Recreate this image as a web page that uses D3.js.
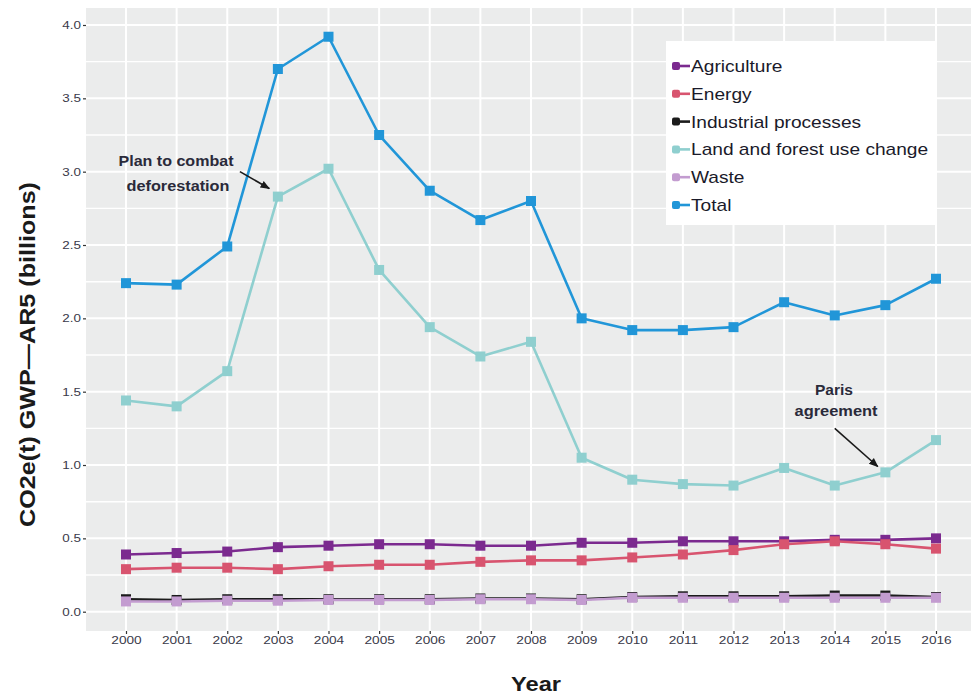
<!DOCTYPE html>
<html>
<head>
<meta charset="utf-8">
<script src="https://cdn.jsdelivr.net/npm/d3@7"></script>
<style>
  body { margin: 0; background: #fff; }
  svg { display: block; font-family: "Liberation Sans", Arial, sans-serif; }
</style>
</head>
<body>
<div id="chart"></div>
<script>
// Dữ liệu
const years = [2000, 2001, 2002, 2003, 2004, 2005, 2006, 2007, 2008, 2009, 2010, 2011, 2012, 2013, 2014, 2015, 2016];
const agriculture = [0.39, 0.40, 0.41, 0.44, 0.45, 0.46, 0.46, 0.45, 0.45, 0.47, 0.47, 0.48, 0.48, 0.48, 0.49, 0.49, 0.50];
const energy = [0.29, 0.30, 0.30, 0.29, 0.31, 0.32, 0.32, 0.34, 0.35, 0.35, 0.37, 0.39, 0.42, 0.46, 0.48, 0.46, 0.43];
const industrial = [0.085, 0.08, 0.085, 0.085, 0.085, 0.085, 0.085, 0.09, 0.09, 0.085, 0.10, 0.105, 0.105, 0.105, 0.11, 0.11, 0.10];
const landUse = [1.44, 1.40, 1.64, 2.83, 3.02, 2.33, 1.94, 1.74, 1.84, 1.05, 0.90, 0.87, 0.86, 0.98, 0.86, 0.95, 1.17];
const waste = [0.07, 0.07, 0.075, 0.075, 0.08, 0.08, 0.08, 0.085, 0.085, 0.08, 0.095, 0.095, 0.095, 0.095, 0.095, 0.095, 0.095];
const total = [2.24, 2.23, 2.49, 3.70, 3.92, 3.25, 2.87, 2.67, 2.80, 2.00, 1.92, 1.92, 1.94, 2.11, 2.02, 2.09, 2.27];
const yTicks = [0.0, 0.5, 1.0, 1.5, 2.0, 2.5, 3.0, 3.5, 4.0];

const seriesNames = ["Agriculture", "Energy", "Industrial processes", "Land and forest use change", "Waste", "Total"];
const seriesValues = [agriculture, energy, industrial, landUse, waste, total];
const colors = ["#7b2a8f", "#d8546f", "#1b1b1b", "#8fcfcf", "#c39cd0", "#2196d8"];
// thứ tự vẽ: Total và Land trước, các đường nhỏ sau
const drawOrder = [5, 3, 0, 1, 2, 4];

const W = 971, H = 694;
const panel = { left: 86, right: 971, top: 8, bottom: 631 };

// kéo giãn chữ theo chiều ngang (ảnh gốc bị giãn)
function stretch(sel, factor) {
    sel.each(function () {
        const n = this.getComputedTextLength();
        d3.select(this)
            .attr("textLength", n * factor)
            .attr("lengthAdjust", "spacingAndGlyphs");
    });
}

const svg = d3.select("#chart")
    .append("svg")
    .attr("width", W)
    .attr("height", H);

const x = d3.scaleLinear()
    .domain([1999.2, 2016.8])
    .range([85.5, 976.5]);

const y = d3.scaleLinear()
    .domain([0, 4])
    .range([611.7, 25]);

// Nền panel
svg.append("rect")
    .attr("x", panel.left)
    .attr("y", panel.top)
    .attr("width", panel.right - panel.left)
    .attr("height", panel.bottom - panel.top)
    .attr("fill", "#ebecec");

svg.append("clipPath").attr("id", "clip")
    .append("rect")
    .attr("x", panel.left)
    .attr("y", panel.top)
    .attr("width", panel.right - panel.left)
    .attr("height", panel.bottom - panel.top);

const grid = svg.append("g").attr("clip-path", "url(#clip)");

// Lưới phụ
const minorY = d3.range(-0.25, 4.3, 0.5);
grid.selectAll(".minor-y")
    .data(minorY)
    .enter()
    .append("line")
    .attr("x1", panel.left).attr("x2", panel.right)
    .attr("y1", d => y(d)).attr("y2", d => y(d))
    .attr("stroke", "#fff")
    .attr("stroke-width", 1.4);

// Lưới chính
grid.selectAll(".major-y")
    .data(yTicks)
    .enter()
    .append("line")
    .attr("x1", panel.left).attr("x2", panel.right)
    .attr("y1", d => y(d)).attr("y2", d => y(d))
    .attr("stroke", "#fff")
    .attr("stroke-width", 2);

grid.selectAll(".major-x")
    .data(years)
    .enter()
    .append("line")
    .attr("x1", d => x(d)).attr("x2", d => x(d))
    .attr("y1", panel.top).attr("y2", panel.bottom)
    .attr("stroke", "#fff")
    .attr("stroke-width", 2);

// Trục
const yAxis = svg.append("g")
    .attr("transform", `translate(${panel.left},0)`)
    .call(d3.axisLeft(y).tickValues(yTicks).tickFormat(d3.format(".1f")).tickSize(3).tickPadding(2));
yAxis.select(".domain").remove();
yAxis.selectAll(".tick line").attr("stroke", "#333").attr("stroke-width", 1.2);
yAxis.selectAll(".tick text").style("font-size", "10.5px").attr("fill", "#3a3a4a")
    .call(stretch, 1.28);

const xAxis = svg.append("g")
    .attr("transform", `translate(0,${panel.bottom})`)
    .call(d3.axisBottom(x).tickValues(years).tickFormat(d3.format("d")).tickSize(3).tickPadding(3));
xAxis.select(".domain").remove();
xAxis.selectAll(".tick line").attr("stroke", "#333").attr("stroke-width", 1.2);
xAxis.selectAll(".tick text").style("font-size", "10.5px").attr("fill", "#3a3a4a")
    .call(stretch, 1.3);

// Đường và điểm
const line = d3.line()
    .x((d, i) => x(years[i]))
    .y(d => y(d));

const plot = svg.append("g").attr("clip-path", "url(#clip)");

drawOrder.forEach(k => {
    plot.append("path")
        .datum(seriesValues[k])
        .attr("fill", "none")
        .attr("stroke", colors[k])
        .attr("stroke-width", 2.6)
        .attr("stroke-linejoin", "round")
        .attr("d", line);

    plot.selectAll(".pt" + k)
        .data(seriesValues[k])
        .enter()
        .append("rect")
        .attr("x", (d, i) => x(years[i]) - 5)
        .attr("y", d => y(d) - 5)
        .attr("width", 10)
        .attr("height", 10)
        .attr("fill", colors[k]);
});

// Chú thích (legend)
const legend = svg.append("g");
legend.append("rect")
    .attr("x", 666)
    .attr("y", 41)
    .attr("width", 269)
    .attr("height", 184)
    .attr("fill", "#fff");

seriesNames.forEach((name, i) => {
    const ly = 66 + i * 27.8;
    legend.append("line")
        .attr("x1", 674).attr("x2", 690)
        .attr("y1", ly).attr("y2", ly)
        .attr("stroke", colors[i])
        .attr("stroke-width", 2.6);
    legend.append("rect")
        .attr("x", 672).attr("y", ly - 4)
        .attr("width", 8).attr("height", 8)
        .attr("rx", 2)
        .attr("fill", colors[i]);
    legend.append("text")
        .attr("x", 691)
        .attr("y", ly + 6)
        .style("font-size", "17px")
        .attr("fill", "#1a1a2a")
        .text(name)
        .call(stretch, 1.125);
});

// Ghi chú
const noteStyle = sel => sel
    .attr("text-anchor", "middle")
    .style("font-size", "14px")
    .style("font-weight", "bold")
    .attr("fill", "#2a2a3a");

svg.append("defs").append("marker")
    .attr("id", "arrow")
    .attr("viewBox", "0 0 10 10")
    .attr("refX", 9).attr("refY", 5)
    .attr("markerWidth", 6).attr("markerHeight", 6)
    .attr("orient", "auto")
    .append("path")
    .attr("d", "M0,1 L10,5 L0,9 Z")
    .attr("fill", "#1a1a1a");

svg.append("text").attr("x", 176).attr("y", 166).call(noteStyle).text("Plan to combat").attr("textLength", 115).attr("lengthAdjust", "spacingAndGlyphs");
svg.append("text").attr("x", 178).attr("y", 191).call(noteStyle).text("deforestation").attr("textLength", 103).attr("lengthAdjust", "spacingAndGlyphs");
svg.append("line")
    .attr("x1", x(2002.25)).attr("y1", y(3.0))
    .attr("x2", x(2002.83)).attr("y2", y(2.885))
    .attr("stroke", "#1a1a1a").attr("stroke-width", 1.6)
    .attr("marker-end", "url(#arrow)");

svg.append("text").attr("x", 834).attr("y", 395).call(noteStyle).text("Paris").attr("textLength", 38).attr("lengthAdjust", "spacingAndGlyphs");
svg.append("text").attr("x", 836).attr("y", 416).call(noteStyle).text("agreement").attr("textLength", 83).attr("lengthAdjust", "spacingAndGlyphs");
svg.append("line")
    .attr("x1", x(2014)).attr("y1", y(1.25))
    .attr("x2", x(2014.85)).attr("y2", y(0.99))
    .attr("stroke", "#1a1a1a").attr("stroke-width", 1.6)
    .attr("marker-end", "url(#arrow)");

// Tiêu đề trục
svg.append("text")
    .attr("transform", `translate(35,${(panel.top + panel.bottom) / 2 + 35}) rotate(-90)`)
    .attr("text-anchor", "middle")
    .style("font-size", "22px")
    .style("font-weight", "bold")
    .attr("fill", "#1a1a1a")
    .attr("textLength", 345)
    .attr("lengthAdjust", "spacingAndGlyphs")
    .text("CO2e(t) GWP\u2014AR5 (billions)");

svg.append("text")
    .attr("x", 536)
    .attr("y", 691)
    .attr("text-anchor", "middle")
    .style("font-size", "21px")
    .style("font-weight", "bold")
    .attr("fill", "#1a1a1a")
    .attr("textLength", 50)
    .attr("lengthAdjust", "spacingAndGlyphs")
    .text("Year");
</script>
</body>
</html>
